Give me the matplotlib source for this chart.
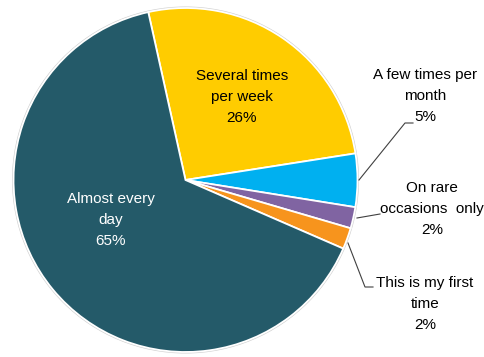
import matplotlib.pyplot as plt
from matplotlib.patches import Circle

# Survey answers, in the order the slices are drawn (clockwise from top)
labels = ["Several times\nper week", "A few times per\nmonth", "On rare\noccasions  only",
          "This is my first\ntime", "Almost every\nday"]
shares = [26, 5, 2, 2, 65]
colors = ["#FFCC00", "#00B0F0", "#8064A2", "#F7941D", "#245A69"]

W, H = 485, 357
plt.rcParams['font.family'] = ['Liberation Sans', 'DejaVu Sans']

fig = plt.figure(figsize=(W / 100, H / 100), dpi=100)
ax = fig.add_axes([0, 0, 1, 1])

cx, cy, r = 185.5, H - 180, 172

# faint rim around the pie
ax.add_patch(Circle((cx, cy), r + 1.5, facecolor="#d0d0d0", edgecolor="none", zorder=0))

wedges, _ = ax.pie(shares, colors=colors, startangle=102.5, counterclock=False,
                   center=(cx, cy), radius=r,
                   wedgeprops=dict(edgecolor="white", linewidth=1.3))

ax.set_xlim(0, W)
ax.set_ylim(0, H)
ax.set_aspect("equal")
ax.axis("off")


def label_text(i, x, y, color="black"):
    ax.text(x, H - y, f"{labels[i]}\n{shares[i]}%", ha="center", va="center",
            fontsize=11, color=color, linespacing=1.6)


label_text(0, 242, 97)
label_text(4, 111, 220, color="white")
label_text(1, 425, 96)
label_text(2, 432, 209)
label_text(3, 425, 304)

# leader lines for the small slices
line_kw = dict(color="#404040", linewidth=0.8)
ax.plot([359, 405, 413], [H - 180, H - 123, H - 123], **line_kw)
ax.plot([357, 380], [H - 218, H - 214], **line_kw)
ax.plot([348, 365, 373], [H - 243, H - 287, H - 287], **line_kw)

fig.savefig("out.png", dpi=100)
